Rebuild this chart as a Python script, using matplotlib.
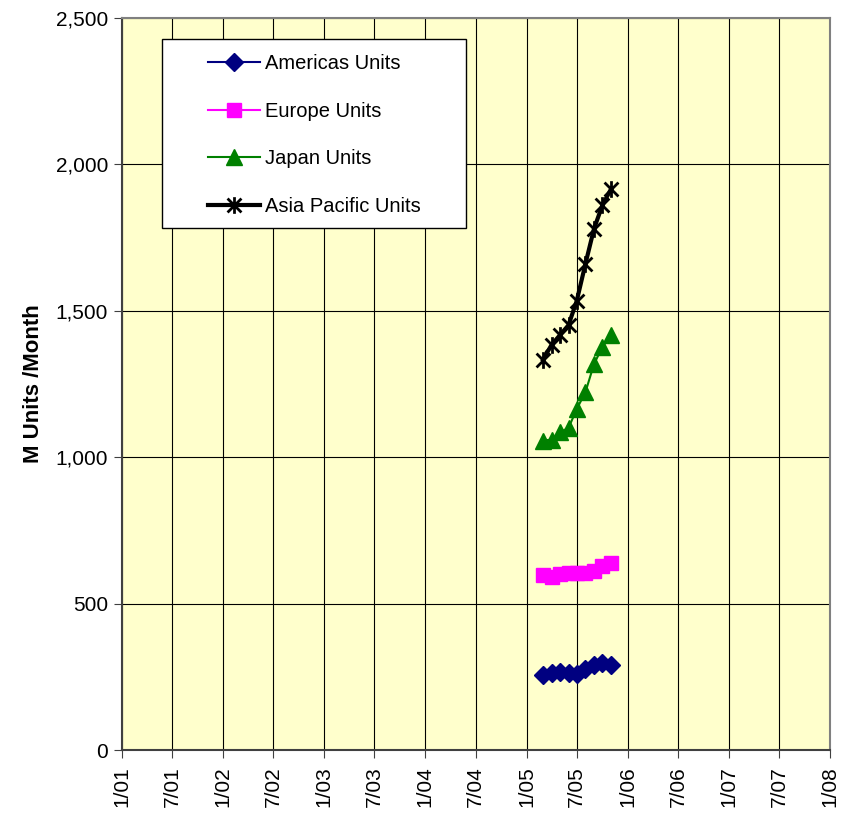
import datetime as dt
import matplotlib
matplotlib.use("Agg")
import matplotlib.pyplot as plt
import matplotlib.dates as mdates
from matplotlib.path import Path
from matplotlib.patches import Rectangle
from matplotlib.ticker import FuncFormatter, MultipleLocator

plt.rcParams['font.family'] = ['Liberation Sans', 'DejaVu Sans']

# monthly data, Mar 2005 .. Nov 2005
months = [dt.date(2005, m, 1) for m in range(3, 12)]
americas = [256, 262, 265, 263, 258, 276, 289, 298, 292]
europe = [597, 592, 600, 603, 604, 606, 612, 628, 640]
japan = [1057, 1060, 1085, 1100, 1165, 1222, 1318, 1376, 1418]
asia = [1333, 1384, 1417, 1451, 1535, 1660, 1780, 1860, 1915]

# excel style star marker: X plus a vertical bar
star = Path([(-1, -1), (1, 1), (-1, 1), (1, -1), (0, -1.2), (0, 1.2)],
            [Path.MOVETO, Path.LINETO, Path.MOVETO, Path.LINETO,
             Path.MOVETO, Path.LINETO])

fig = plt.figure(figsize=(8.45, 8.25), dpi=100)
fig.patch.set_facecolor('white')
ax = fig.add_axes([122/845, 1-750/825, (830-122)/845, (750-18)/825])
ax.set_facecolor('#FFFFCC')

ax.plot(months, americas, color='#000080', lw=1.5, marker='D', ms=9,
        label='Americas Units')
ax.plot(months, europe, color='#FF00FF', lw=1.5, marker='s', ms=10,
        label='Europe Units')
ax.plot(months, japan, color='#008000', lw=1.5, marker='^', ms=12,
        label='Japan Units')
ax.plot(months, asia, color='black', lw=3, marker=star, ms=12, mew=2,
        label='Asia Pacific Units')

ax.set_xlim(mdates.date2num(dt.date(2001, 1, 1)), mdates.date2num(dt.date(2008, 1, 1)))
ax.set_ylim(0, 2500)
ax.xaxis.set_major_locator(mdates.MonthLocator(bymonth=[1, 7]))
ax.xaxis.set_major_formatter(FuncFormatter(
    lambda x, p: '%d/%s' % (mdates.num2date(x).month, mdates.num2date(x).strftime('%y'))))
ax.yaxis.set_major_locator(MultipleLocator(500))
ax.yaxis.set_major_formatter(FuncFormatter(lambda v, p: '{:,.0f}'.format(v)))

ax.grid(True, color='black', lw=0.8)
ax.set_axisbelow(True)
ax.tick_params(axis='x', labelsize=15, rotation=90, length=6, color='#404040', pad=6)
ax.tick_params(axis='y', labelsize=15, length=6, color='#404040', pad=4)
for s in ['left', 'bottom']:
    ax.spines[s].set_color('#404040')
    ax.spines[s].set_linewidth(1.5)
for s in ['top', 'right']:
    ax.spines[s].set_color('#808080')
    ax.spines[s].set_linewidth(1.5)

ax.set_ylabel('M Units /Month', fontsize=16, fontweight='bold', labelpad=8)

# legend box
ax.add_patch(Rectangle((162/845, 1-228/825), (466-162)/845, (228-39)/825,
                       transform=fig.transFigure, facecolor='white',
                       edgecolor='black', lw=1, zorder=5, clip_on=False))
leg = ax.legend(loc='upper left', bbox_to_anchor=(208/845, 1-54/825),
                bbox_transform=fig.transFigure, frameon=False, fontsize=14.5,
                handlelength=2.6, handletextpad=0.25, labelspacing=1.42,
                borderpad=0, borderaxespad=0)
leg.set_zorder(6)

fig.savefig('out.png', dpi=100)
